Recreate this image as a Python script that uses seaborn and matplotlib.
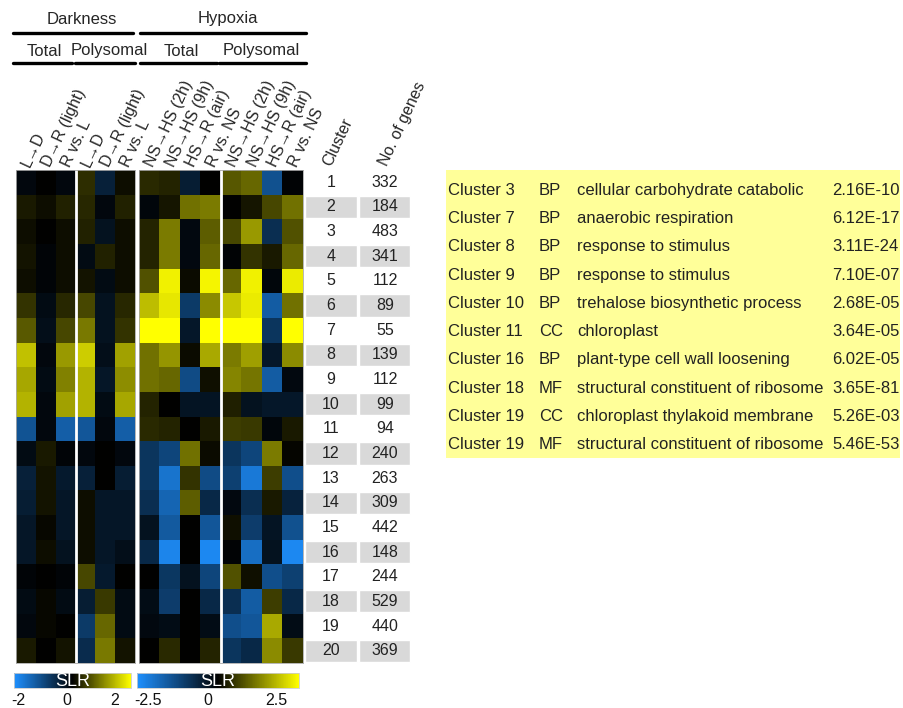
import numpy as np
import pandas as pd
import matplotlib
matplotlib.use("Agg")
import matplotlib.pyplot as plt
import seaborn as sns
from matplotlib.colors import LinearSegmentedColormap
from matplotlib.lines import Line2D

# ---------------- data ----------------
dark_labels = ["L→D", "D→R (light)", "R vs. L", "L→D", "D→R (light)", "R vs. L"]
hyp_labels = ["NS→HS (2h)", "NS→HS (9h)", "HS→R (air)", "R vs. NS",
              "NS→HS (2h)", "NS→HS (9h)", "HS→R (air)", "R vs. NS"]

clusters = list(range(1, 21))
n_genes = [332, 184, 483, 341, 112, 89, 55, 139, 112, 99,
           94, 240, 263, 309, 442, 148, 244, 529, 440, 369]

dark_values = [
    [-0.1, 0.0, -0.1, 0.35, -0.45, 0.1],
    [0.2, 0.1, 0.25, 0.3, -0.1, 0.25],
    [0.1, 0.0, 0.1, 0.25, -0.25, 0.1],
    [0.15, -0.05, 0.1, -0.15, 0.25, 0.1],
    [0.1, -0.05, 0.1, 0.15, -0.15, 0.1],
    [0.4, -0.15, 0.3, 0.55, -0.25, 0.3],
    [0.7, -0.2, 0.55, 0.95, -0.25, 0.4],
    [1.5, -0.1, 1.2, 1.6, -0.2, 1.25],
    [1.3, -0.15, 1.0, 1.4, -0.3, 1.1],
    [1.4, -0.1, 1.25, 1.4, -0.15, 1.3],
    [-1.15, -0.1, -1.3, -1.2, -0.1, -1.3],
    [-0.15, 0.2, -0.05, -0.1, 0.0, -0.1],
    [-0.45, 0.15, -0.35, -0.45, 0.0, -0.4],
    [-0.4, 0.15, -0.3, 0.1, -0.3, -0.3],
    [-0.3, 0.05, -0.3, 0.1, -0.3, -0.3],
    [-0.3, 0.1, -0.25, 0.1, -0.3, -0.2],
    [-0.05, 0.0, -0.05, 0.55, -0.35, 0.0],
    [-0.15, 0.05, -0.15, -0.4, 0.45, -0.15],
    [-0.1, 0.05, 0.0, -0.8, 0.8, -0.15],
    [0.2, 0.0, 0.15, -0.6, 0.95, 0.15],
]

hyp_values = [
    [0.4, 0.35, -0.5, 0.0, 0.85, 1.0, -1.4, -0.05],
    [-0.1, 0.2, 1.1, 1.2, 0.0, 0.2, 0.7, 1.1],
    [0.35, 1.2, -0.15, 0.9, 0.7, 1.5, -0.8, 0.8],
    [0.35, 1.2, -0.15, 1.0, -0.05, 0.5, 0.25, 1.0],
    [0.8, 2.35, 0.1, 2.4, 1.0, 2.35, -0.1, 2.3],
    [1.85, 2.25, -1.0, 1.35, 1.95, 2.3, -1.6, 1.1],
    [2.5, 2.5, -0.4, 2.5, 2.5, 2.5, -0.9, 2.5],
    [1.1, 1.45, 0.1, 1.65, 1.2, 1.55, -0.4, 1.35],
    [1.1, 1.0, -1.3, 0.15, 1.3, 1.15, -1.6, -0.15],
    [0.35, 0.0, -0.35, -0.35, 0.3, -0.3, -0.4, -0.4],
    [0.4, 0.35, 0.0, 0.25, 0.6, 0.55, -0.1, 0.25],
    [-0.9, -1.2, 1.1, 0.1, -0.9, -1.2, 1.2, 0.05],
    [-0.9, -2.0, 0.5, -1.3, -1.1, -2.1, 0.6, -1.35],
    [-0.8, -1.75, 0.9, -0.7, -0.15, -0.8, 0.25, -0.6],
    [-0.3, -1.55, 0.0, -1.5, 0.15, -1.05, -0.35, -1.4],
    [-0.7, -2.3, 0.0, -2.35, -0.05, -1.9, -0.3, -2.35],
    [0.0, -0.95, -0.3, -1.2, 0.8, 0.15, -1.35, -1.1],
    [-0.2, -1.05, 0.0, -0.7, -0.8, -1.6, 0.6, -0.7],
    [-0.15, -0.2, 0.0, -0.2, -1.35, -1.5, 1.65, -0.2],
    [0.0, 0.4, 0.0, 0.35, -0.9, -0.7, 1.35, 0.55],
]

go_cluster = ["Cluster 3", "Cluster 7", "Cluster 8", "Cluster 9", "Cluster 10",
              "Cluster 11", "Cluster 16", "Cluster 18", "Cluster 19", "Cluster 19"]
go_category = ["BP", "BP", "BP", "BP", "BP", "CC", "BP", "MF", "CC", "MF"]
go_term = ["cellular carbohydrate catabolic", "anaerobic respiration",
           "response to stimulus", "response to stimulus",
           "trehalose biosynthetic process", "chloroplast",
           "plant-type cell wall loosening", "structural constituent of ribosome",
           "chloroplast thylakoid membrane", "structural constituent of ribosome"]
go_pvalue = ["2.16E-10", "6.12E-17", "3.11E-24", "7.10E-07", "2.68E-05",
             "3.64E-05", "6.02E-05", "3.65E-81", "5.26E-03", "5.46E-53"]

dark_ticklabels = ["-2", "0", "2"]
hyp_ticklabels = ["-2.5", "0", "2.5"]

# ---------------- layout ----------------
sns.set_theme(style="white")
plt.rcParams["font.family"] = ["Liberation Sans", "DejaVu Sans"]

W, H = 904, 708
fig = plt.figure(figsize=(W / 100, H / 100), dpi=100)


def rect(x0, y0, x1, y1):
    return [x0 / W, 1 - y1 / H, (x1 - x0) / W, (y1 - y0) / H]


def fx(x):
    return x / W


def fy(y):
    return 1 - y / H


cmap = LinearSegmentedColormap.from_list("slr", ["#1E90FF", "#000000", "#FFFF00"])
FS = 11.5

ax_d = fig.add_axes(rect(16, 170, 135, 663))
ax_h = fig.add_axes(rect(139, 170, 303, 663))
cax_d = fig.add_axes(rect(14, 673, 131, 688))
cax_h = fig.add_axes(rect(137, 673, 299, 688))

sns.heatmap(np.array(dark_values), ax=ax_d, cmap=cmap, vmin=-2, vmax=2,
            cbar_ax=cax_d, cbar_kws=dict(orientation="horizontal"),
            xticklabels=dark_labels, yticklabels=False)
sns.heatmap(np.array(hyp_values), ax=ax_h, cmap=cmap, vmin=-2.5, vmax=2.5,
            cbar_ax=cax_h, cbar_kws=dict(orientation="horizontal"),
            xticklabels=hyp_labels, yticklabels=False)

for ax, labels, split in [(ax_d, dark_labels, 3), (ax_h, hyp_labels, 4)]:
    ax.xaxis.tick_top()
    ax.set_xticklabels(labels, rotation=65, ha="left", va="center",
                       rotation_mode="anchor", fontsize=FS)
    ax.tick_params(axis="x", length=0, pad=3)
    ax.axvline(split, color="white", lw=2)
    ax.set_xlabel("")
    ax.set_ylabel("")
    for s in ["top", "bottom", "left", "right"]:
        ax.spines[s].set_visible(True)
        ax.spines[s].set_color("#aaaaaa")
        ax.spines[s].set_linewidth(0.6)

# colourbar labels placed as in the reference (below each bar)
cb_label_pos = {id(cax_d): [0.04, 0.45, 0.86], id(cax_h): [0.07, 0.44, 0.86]}
for cax, tl in [(cax_d, dark_ticklabels), (cax_h, hyp_ticklabels)]:
    cax.set_xticks([])
    for s in cax.spines.values():
        s.set_edgecolor("#cccccc")
        s.set_linewidth(0.6)
    cax.text(0.5, 0.42, "SLR", transform=cax.transAxes, ha="center", va="center",
             color="white", fontsize=13)
    for fxpos, lab in zip(cb_label_pos[id(cax)], tl):
        cax.text(fxpos, -0.35, lab, transform=cax.transAxes, ha="center", va="top",
                 fontsize=FS, color="#111111")

# cluster / gene-count table
ax_t = fig.add_axes(rect(303, 170, 412, 663))
ax_t.set_xlim(303, 412)
ax_t.set_ylim(20, 0)
ax_t.axis("off")
ypos = np.arange(len(clusters)) + 0.5
shade = [c % 2 == 0 for c in clusters]
ax_t.barh(ypos[shade], 52, left=305, height=0.9, color="#D9D9D9")
ax_t.barh(ypos[shade], 51, left=359, height=0.9, color="#D9D9D9")
for y, c, n in zip(ypos, clusters, n_genes):
    ax_t.text(331, y, str(c), ha="center", va="center", fontsize=FS, color="#222222")
    ax_t.text(385, y, str(n), ha="center", va="center", fontsize=FS, color="#222222")

fig.text(fx(327), fy(165), "Cluster", rotation=65, ha="left", va="center",
         rotation_mode="anchor", fontsize=FS)
fig.text(fx(383), fy(165), "No. of genes", rotation=65, ha="left", va="center",
         rotation_mode="anchor", fontsize=FS)

# header
hdr_fs = 12
fig.text(fx(82), fy(19), "Darkness", ha="center", va="center", fontsize=hdr_fs)
fig.text(fx(228), fy(19), "Hypoxia", ha="center", va="center", fontsize=hdr_fs)
fig.text(fx(44), fy(51), "Total", ha="center", va="center", fontsize=hdr_fs)
fig.text(fx(109), fy(51), "Polysomal", ha="center", va="center", fontsize=hdr_fs)
fig.text(fx(181), fy(51), "Total", ha="center", va="center", fontsize=hdr_fs)
fig.text(fx(261), fy(51), "Polysomal", ha="center", va="center", fontsize=hdr_fs)
for x0, x1, y in [(13, 133, 33), (140, 306, 33),
                  (13, 72, 63), (75, 135, 63), (140, 217, 63), (219, 306, 63)]:
    fig.add_artist(Line2D([fx(x0), fx(x1)], [fy(y), fy(y)], color="black", lw=2.4))

# GO enrichment table
GFS = 12
ax_g = fig.add_axes(rect(446, 170, 900, 458))
ax_g.set_xlim(446, 900)
ax_g.set_ylim(9.465, -0.712)
ax_g.set_facecolor("#FFFF99")
ax_g.set_xticks([])
ax_g.set_yticks([])
for s in ax_g.spines.values():
    s.set_visible(False)
for i, (c, cat, term, p) in enumerate(zip(go_cluster, go_category, go_term, go_pvalue)):
    ax_g.text(448, i, c, ha="left", va="center", fontsize=GFS, color="#222222")
    ax_g.text(539, i, cat, ha="left", va="center", fontsize=GFS, color="#222222")
    ax_g.text(577, i, term, ha="left", va="center", fontsize=GFS, color="#222222")
    ax_g.text(832, i, p, ha="left", va="center", fontsize=GFS, color="#222222")

fig.savefig("out.png", dpi=100)
